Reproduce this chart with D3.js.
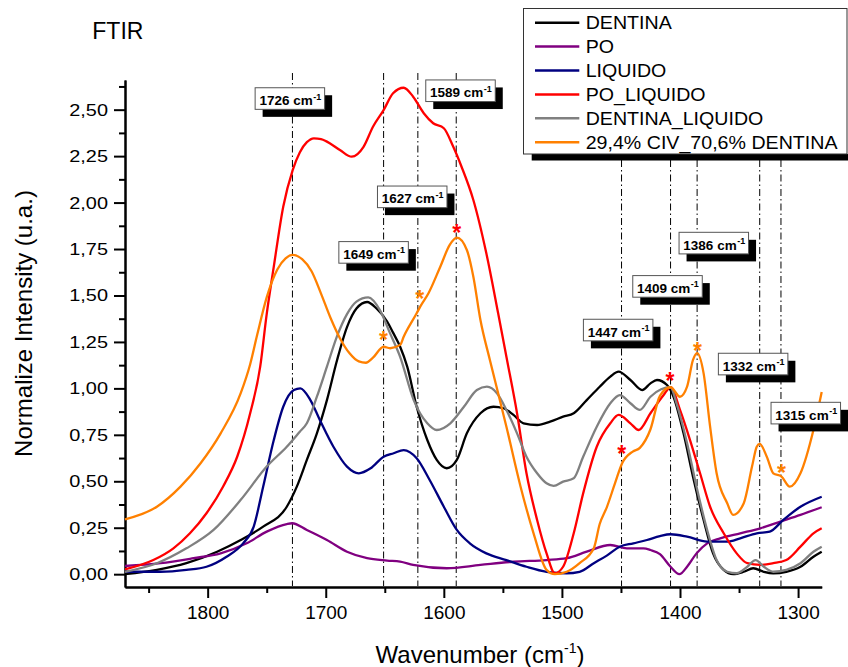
<!DOCTYPE html>
<html><head><meta charset="utf-8">
<script src="https://cdn.jsdelivr.net/npm/d3@7"></script>
<style>
body{margin:0;background:#fff}
svg{display:block}
text{font-family:"Liberation Sans",Arial,sans-serif;fill:#000}
</style>
</head><body>
<svg id="c" width="848" height="667"></svg>
<script>
// ---------- DATA ----------
const seriesNames = ["DENTINA","PO","LIQUIDO","PO_LIQUIDO","DENTINA_LIQUIDO","29,4% CIV_70,6% DENTINA"];
const seriesColors = ["#000000","#800080","#000080","#ff0000","#808080","#ff8000"];

const dentinaWn = [1870,1843,1818,1792,1772,1753,1733,1724.5,1716,1707.5,1699,1690.5,1682,1674,1665,1657,1648,1643,1637,1631,1623,1614,1606,1597.5,1589,1580.5,1569,1558,1549.5,1541,1532.5,1521,1510,1499,1490,1479,1468,1459,1452,1442,1432,1425,1419.5,1411,1405.5,1397,1389,1380,1372,1363,1355,1346,1338,1329,1321,1310,1298,1287,1280];
const dentinaVal = [0.0,0.023,0.059,0.121,0.184,0.256,0.363,0.471,0.615,0.758,0.937,1.15,1.33,1.43,1.465,1.43,1.36,1.30,1.224,1.117,0.901,0.722,0.615,0.57,0.615,0.758,0.866,0.901,0.893,0.857,0.812,0.803,0.821,0.848,0.866,0.937,1.009,1.063,1.09,1.045,0.991,1.027,1.045,1.018,0.955,0.758,0.525,0.292,0.112,0.023,0.0,0.013,0.032,0.013,0.005,0.013,0.04,0.094,0.121];

const poWn = [1870,1840,1812,1789,1767,1750,1733,1728.5,1716,1699,1682,1665,1648,1637,1626,1597.5,1569,1541,1513,1496,1479,1459,1445,1431,1425,1417,1408,1400.5,1394,1386,1377,1366,1349,1332,1315,1298,1280];
const poVal = [0.044,0.059,0.086,0.112,0.166,0.229,0.27,0.274,0.238,0.184,0.121,0.086,0.073,0.067,0.05,0.032,0.05,0.067,0.076,0.086,0.121,0.157,0.139,0.139,0.13,0.108,0.04,0.0,0.04,0.112,0.166,0.193,0.22,0.247,0.283,0.319,0.36];

const liquidoWn = [1870,1840,1818,1801,1784,1770,1761,1753,1744,1736,1727,1721.5,1713,1705,1693.5,1682,1672,1662,1651,1642.5,1634,1623,1612,1600,1589,1578,1564,1547,1530,1513,1496,1485,1473,1462,1451,1439.5,1428,1417,1408,1394,1377,1360,1349,1335,1324,1312.5,1298,1280];
const liquidoVal = [0.013,0.013,0.023,0.04,0.094,0.166,0.256,0.471,0.722,0.901,0.991,1.0,0.937,0.83,0.686,0.579,0.543,0.57,0.632,0.651,0.668,0.624,0.507,0.363,0.238,0.166,0.112,0.076,0.04,0.013,0.005,0.013,0.059,0.1,0.148,0.166,0.184,0.205,0.215,0.202,0.175,0.175,0.193,0.22,0.229,0.292,0.363,0.417];

const poLiquidoWn = [1870,1846,1829,1815,1801,1787,1775,1764,1755.5,1750,1744,1736,1728,1722,1716,1710,1704,1699,1688,1678,1668,1660,1651,1643,1634,1626,1617,1609,1600,1592,1585,1575,1564,1554,1547,1538,1530,1521,1513,1506,1499,1490,1482,1470.5,1459,1452,1442,1435,1425,1414,1408,1400,1391.5,1383,1374.5,1363,1352,1343,1332,1321,1310,1298,1287,1280];
const poLiquidoVal = [0.026,0.076,0.139,0.22,0.328,0.471,0.632,0.866,1.117,1.40,1.655,1.978,2.175,2.27,2.325,2.346,2.342,2.328,2.283,2.247,2.30,2.408,2.498,2.588,2.618,2.57,2.481,2.427,2.40,2.30,2.193,2.014,1.727,1.404,1.17,0.866,0.543,0.292,0.112,0.005,0.04,0.22,0.435,0.686,0.812,0.857,0.812,0.776,0.866,0.963,1.006,0.884,0.722,0.543,0.363,0.22,0.112,0.059,0.05,0.059,0.076,0.148,0.22,0.247];

const dentinaLiquidoWn = [1870,1843,1818,1795,1772,1750,1733,1722,1716,1707.5,1699,1690.5,1682,1674,1664,1654,1645.5,1637,1625.5,1614,1606,1594.5,1583,1572,1563.5,1555,1547,1538,1530,1521,1513,1507,1499,1490,1482,1470.5,1459,1451,1442,1434,1425,1416,1408,1403,1394,1386,1377,1369,1360,1352,1343,1336,1329,1321,1310,1298,1287,1280];
const dentinaLiquidoVal = [0.013,0.059,0.139,0.238,0.40,0.579,0.686,0.767,0.812,0.955,1.117,1.28,1.40,1.467,1.49,1.42,1.296,1.17,0.937,0.812,0.776,0.812,0.901,0.991,1.009,0.974,0.884,0.758,0.632,0.543,0.489,0.475,0.498,0.516,0.632,0.794,0.92,0.964,0.92,0.884,0.955,0.995,1.006,0.92,0.705,0.471,0.238,0.076,0.013,0.005,0.04,0.076,0.04,0.013,0.023,0.059,0.121,0.148];

const civWn = [1870,1843,1823,1806,1789,1772,1764,1758,1750,1741,1734,1728,1720,1712,1704,1696,1688,1680,1672,1666,1660,1651,1645.5,1637,1634,1623,1620,1613,1603,1595,1589,1580.5,1575,1569,1561,1547,1535,1524,1513,1506,1496,1485,1473,1468,1462,1455,1449,1440,1434,1425,1417,1408,1400,1394,1389,1385.5,1380,1374.5,1369,1360,1355,1346,1339,1335,1332.5,1326.5,1321,1314,1307,1298,1287,1280];
const civVal = [0.295,0.363,0.471,0.597,0.758,0.974,1.13,1.29,1.49,1.64,1.70,1.718,1.695,1.63,1.51,1.38,1.27,1.19,1.145,1.138,1.165,1.224,1.216,1.234,1.278,1.404,1.44,1.512,1.655,1.772,1.811,1.745,1.601,1.368,1.153,0.794,0.471,0.22,0.023,0.0,0.013,0.06,0.14,0.27,0.36,0.49,0.597,0.66,0.68,0.78,0.96,1.006,0.955,1.009,1.153,1.19,1.081,0.794,0.543,0.382,0.319,0.382,0.579,0.686,0.701,0.632,0.543,0.525,0.471,0.543,0.776,0.98];

const xTicks = [1800,1700,1600,1500,1400,1300];
const xMinorTicks = [1850,1750,1650,1550,1450,1350];
const yTicks = [0,0.25,0.5,0.75,1.0,1.25,1.5,1.75,2.0,2.25,2.5];
const yMinorTicks = [0.125,0.375,0.625,0.875,1.125,1.375,1.625,1.875,2.125,2.375,2.625];

// peak markers
const peakLabels = ["1726","1649","1627","1589","1447","1409","1386","1332","1315"];
const peakLineWn = [1728.2,1651,1622,1589.5,1449.5,1408,1385.5,1332.5,1314.5];
// label box anchors (data units, top-left corner)
const boxLeftWn = [1759.8,1688.9,1656.2,1615.3,1481.8,1440.0,1400.8,1367.5,1322.9];
const boxTopVal = [2.618,1.79,2.089,2.66,1.372,1.607,1.84,1.189,0.925];

// asterisks
const starWn = [1651.2,1620.5,1589,1449.3,1408.4,1385.3,1314];
const starVal = [1.287,1.508,1.862,0.672,1.067,1.23,0.573];
const starSeries = [5,5,3,3,3,5,5];

// ---------- CHART ----------
const svg = d3.select("#c");
const x = d3.scaleLinear().domain([1870,1280]).range([125,821.7]);
const y = d3.scaleLinear().domain([-0.069,2.6597]).range([587,80]);

function stretch(sel,k){
  sel.each(function(){
    const L = this.getComputedTextLength();
    this.setAttribute("textLength", L*k);
    this.setAttribute("lengthAdjust","spacingAndGlyphs");
  });
}

const series = [
  {wn:dentinaWn,val:dentinaVal},
  {wn:poWn,val:poVal},
  {wn:liquidoWn,val:liquidoVal},
  {wn:poLiquidoWn,val:poLiquidoVal},
  {wn:dentinaLiquidoWn,val:dentinaLiquidoVal},
  {wn:civWn,val:civVal}
].map((s,i)=>({name:seriesNames[i],color:seriesColors[i],pts:s.wn.map((w,j)=>[w,s.val[j]])}));

// axes
const fmt = v => d3.format(".2f")(v).replace(".",",");
const gy = svg.append("g").attr("transform","translate(125,0)")
  .call(d3.axisLeft(y).tickValues(yTicks).tickFormat(fmt).tickSize(11).tickSizeOuter(0).tickPadding(6));
const gyM = svg.append("g").attr("transform","translate(125,0)")
  .call(d3.axisLeft(y).tickValues(yMinorTicks).tickFormat("").tickSize(6).tickSizeOuter(0));
const gx = svg.append("g").attr("transform","translate(0,587)")
  .call(d3.axisBottom(x).tickValues(xTicks).tickFormat(d3.format("d")).tickSize(11).tickSizeOuter(0).tickPadding(9));
const gxM = svg.append("g").attr("transform","translate(0,587)")
  .call(d3.axisBottom(x).tickValues(xMinorTicks).tickFormat("").tickSize(6).tickSizeOuter(0));
[gy,gyM,gx,gxM].forEach(g=>{
  g.selectAll(".domain").attr("stroke","#000").attr("stroke-width",2);
  g.selectAll(".tick line").attr("stroke","#000").attr("stroke-width",2);
});
gy.selectAll(".tick text").attr("font-size",17).attr("font-family","Liberation Sans, Arial, sans-serif").call(stretch,1.17);
gx.selectAll(".tick text").attr("font-size",17.5).attr("font-family","Liberation Sans, Arial, sans-serif").call(stretch,1.085);

// vertical dash-dot lines
svg.append("g").selectAll("line").data(peakLineWn).join("line")
  .attr("x1",d=>x(d)).attr("x2",d=>x(d)).attr("y1",73).attr("y2",586)
  .attr("stroke","#000").attr("stroke-width",1).attr("stroke-dasharray","7,3,1.5,3");

// curves
const line = d3.line().x(d=>x(d[0])).y(d=>y(d[1])).curve(d3.curveMonotoneX);
svg.append("g").selectAll("path").data(series).join("path")
  .attr("d",d=>line(d.pts)).attr("fill","none").attr("stroke",d=>d.color)
  .attr("stroke-width",2.3).attr("stroke-linejoin","round");

// asterisks
svg.append("g").selectAll("text").data(starWn).join("text")
  .attr("x",d=>x(d)).attr("y",(d,i)=>y(starVal[i])+13)
  .attr("text-anchor","middle").attr("font-size",23).attr("font-weight","bold")
  .style("fill",(d,i)=>seriesColors[starSeries[i]]).text("*");

// label boxes
const bw = 69.5, bh = 21.6, sh = 7.5;
const lab = svg.append("g").selectAll("g").data(peakLabels).join("g")
  .attr("transform",(d,i)=>`translate(${x(boxLeftWn[i])},${y(boxTopVal[i])})`);
lab.append("rect").attr("x",sh).attr("y",sh).attr("width",bw).attr("height",bh).attr("fill","#000");
lab.append("rect").attr("x",0).attr("y",0).attr("width",bw).attr("height",bh)
  .attr("fill","#fff").attr("stroke","#555").attr("stroke-width",1);
const lt = lab.append("text").attr("x",4.3).attr("y",17.3).attr("font-size",13.5).attr("font-weight","bold");
lt.append("tspan").text(d=>d+" cm");
lt.append("tspan").attr("font-size",9).attr("dy",-5.5).attr("dx",0.5).text("-1");

// legend
const lg = svg.append("g");
lg.append("rect").attr("x",531.7).attr("y",154).attr("width",330).attr("height",6.5).attr("fill","#000");
lg.append("rect").attr("x",523.5).attr("y",8.5).attr("width",323.5).attr("height",145.5)
  .attr("fill","#fff").attr("stroke","#333").attr("stroke-width",1);
const rows = lg.selectAll("g.row").data(series).join("g").attr("class","row")
  .attr("transform",(d,i)=>`translate(0,${22.7+i*23.9})`);
rows.append("line").attr("x1",535).attr("x2",579.3).attr("y1",0).attr("y2",0)
  .attr("stroke",d=>d.color).attr("stroke-width",2.5);
rows.append("text").attr("x",585.7).attr("y",6.5).attr("font-size",18.5).text(d=>d.name).call(stretch,1.06);

// titles
svg.append("text").attr("x",92.3).attr("y",39.3).attr("font-size",23).text("FTIR");
svg.append("text").attr("transform","translate(32,323.5) rotate(-90)")
  .attr("text-anchor","middle").attr("font-size",24).text("Normalize Intensity (u.a.)");
const xt = svg.append("text").attr("x",480).attr("y",663).attr("text-anchor","middle").attr("font-size",24);
xt.append("tspan").text("Wavenumber (cm");
xt.append("tspan").attr("font-size",14).attr("dy",-10).text("-1");
xt.append("tspan").attr("dy",10).text(")");
</script>
</body></html>
